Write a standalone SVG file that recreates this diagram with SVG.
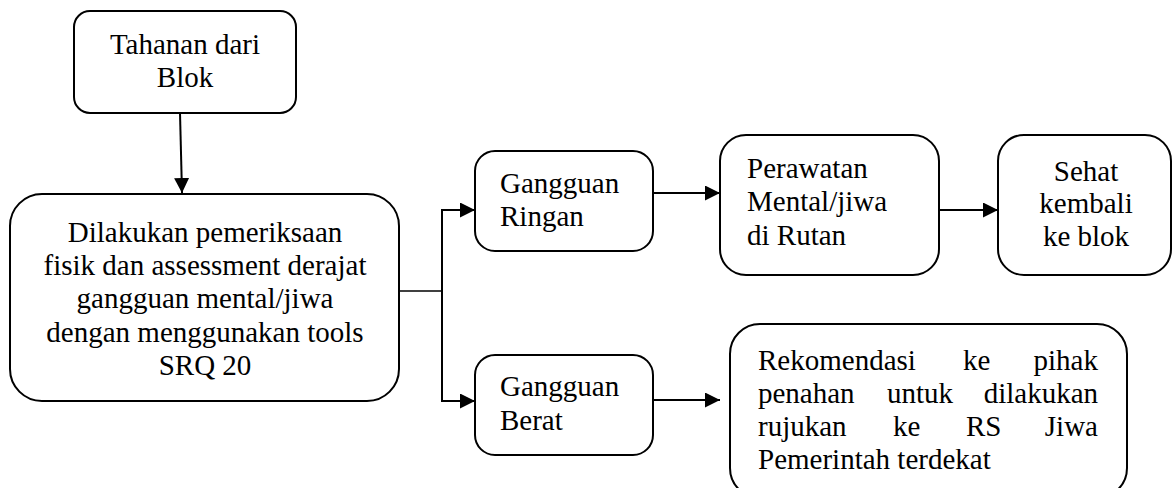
<svg xmlns="http://www.w3.org/2000/svg" width="1173" height="488" viewBox="0 0 1173 488" font-family="'Liberation Serif', 'Times New Roman', Times, serif">
  <style>
    .box { fill: #ffffff; stroke: #000000; stroke-width: 2; }
    .lbl { font-family: 'Liberation Serif', 'Times New Roman', Times, serif; font-size: 29px; fill: #000000; }
    .mid { text-anchor: middle; }
    .end { text-anchor: end; }
    .edge { fill: none; stroke: #000000; stroke-width: 2; }
    .thin { fill: none; stroke: #000000; stroke-width: 1.5; }
  </style>
  <defs>
    <marker id="arrow" markerUnits="userSpaceOnUse" markerWidth="16" markerHeight="16" viewBox="0 0 16 16" refX="15" refY="7.5" orient="auto">
      <path d="M0,0 L15,7.5 L0,15 Z" fill="#000000"/>
    </marker>
  </defs>
  <rect width="1173" height="488" fill="#ffffff"/>

  <!-- connectors -->
  <g id="connectors">
    <line class="edge" x1="180" y1="113" x2="182" y2="193" marker-end="url(#arrow)"/>
    <line class="thin" x1="399" y1="291" x2="442" y2="291"/>
    <polyline class="edge" points="475,210 442,210 442,401 475,401" marker-end="url(#arrow)"/>
    <line class="edge" x1="442" y1="210" x2="475" y2="210" marker-end="url(#arrow)"/>
    <line class="edge" x1="653" y1="193" x2="720" y2="193" marker-end="url(#arrow)"/>
    <line class="edge" x1="939" y1="210" x2="998" y2="210" marker-end="url(#arrow)"/>
    <line class="edge" x1="653" y1="400" x2="720" y2="400" marker-end="url(#arrow)"/>
  </g>

  <!-- nodes -->
  <g id="tahanan">
    <rect class="box" x="74" y="11" width="222" height="102" rx="16"/>
    <text class="lbl mid" x="185" y="54">Tahanan dari</text>
    <text class="lbl mid" x="185" y="87">Blok</text>
  </g>

  <g id="pemeriksaan">
    <rect class="box" x="10" y="194" width="389" height="207" rx="32"/>
    <text class="lbl mid" x="205" y="242">Dilakukan pemeriksaan</text>
    <text class="lbl mid" x="205" y="275">fisik dan assessment derajat</text>
    <text class="lbl mid" x="205" y="308">gangguan mental/jiwa</text>
    <text class="lbl mid" x="205" y="342">dengan menggunakan tools</text>
    <text class="lbl mid" x="205" y="375">SRQ 20</text>
  </g>

  <g id="ringan">
    <rect class="box" x="475" y="151" width="178" height="100" rx="20"/>
    <text class="lbl" x="500" y="193">Gangguan</text>
    <text class="lbl" x="500" y="226">Ringan</text>
  </g>

  <g id="perawatan">
    <rect class="box" x="720" y="135" width="219" height="140" rx="26"/>
    <text class="lbl" x="747" y="178">Perawatan</text>
    <text class="lbl" x="747" y="211">Mental/jiwa</text>
    <text class="lbl" x="747" y="245">di Rutan</text>
  </g>

  <g id="sehat">
    <rect class="box" x="998" y="135" width="173" height="140" rx="26"/>
    <text class="lbl mid" x="1086" y="181">Sehat</text>
    <text class="lbl mid" x="1086" y="213">kembali</text>
    <text class="lbl mid" x="1086" y="246">ke blok</text>
  </g>

  <g id="berat">
    <rect class="box" x="475" y="355" width="178" height="100" rx="20"/>
    <text class="lbl" x="500" y="396">Gangguan</text>
    <text class="lbl" x="500" y="430">Berat</text>
  </g>

  <g id="rekomendasi">
    <rect class="box" x="730" y="324" width="397" height="174" rx="30"/>
    <!-- justified lines: words placed individually -->
    <text class="lbl" x="758" y="370">Rekomendasi</text>
    <text class="lbl" x="963" y="370">ke</text>
    <text class="lbl end" x="1098" y="370">pihak</text>
    <text class="lbl" x="758" y="403">penahan</text>
    <text class="lbl" x="887" y="403">untuk</text>
    <text class="lbl end" x="1098" y="403">dilakukan</text>
    <text class="lbl" x="758" y="436">rujukan</text>
    <text class="lbl" x="893" y="436">ke</text>
    <text class="lbl" x="966" y="436">RS</text>
    <text class="lbl end" x="1098" y="436">Jiwa</text>
    <text class="lbl" x="758" y="469">Pemerintah terdekat</text>
  </g>
</svg>
